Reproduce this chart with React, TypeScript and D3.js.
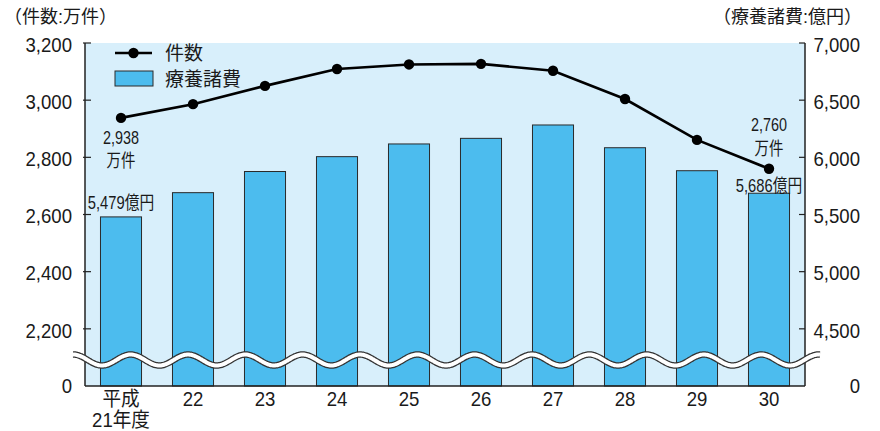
import React from "react";
import * as d3 from "d3";

const categories = ["平成\n21年度", "22", "23", "24", "25", "26", "27", "28", "29", "30"];
const caseCounts = [2938, 2986, 3050, 3109, 3125, 3127, 3103, 3004, 2861, 2760];
const medicalCosts = [5479, 5691, 5876, 6006, 6117, 6166, 6283, 6084, 5883, 5686];
const leftTicks = [2200, 2400, 2600, 2800, 3000, 3200];
const rightTicks = [4500, 5000, 5500, 6000, 6500, 7000];
const leftUnit = "（件数:万件）";
const rightUnit = "（療養諸費:億円）";
const seriesNames = ["件数", "療養諸費"];

const W = 880, H = 431;
const L = 85, R = 805, T = 43, B = 386;
const FONT = "'Liberation Sans', 'Noto Sans CJK JP', sans-serif";
const BG = "#d8effb";
const BAR = "#4cbcee";

function Txt({ x, y, anchor = "start", size = 18, sx = 1, children, weight = 400 }: any) {
  return (
    <text
      transform={`translate(${x},${y}) scale(${sx},1)`}
      textAnchor={anchor}
      dominantBaseline="central"
      fontFamily={FONT}
      fontSize={size}
      fontWeight={weight}
      fill="#1a1a1a"
    >
      {children}
    </text>
  );
}

export default function App() {
  const x = d3.scaleBand<string>().domain(categories).range([L, R]).paddingInner(0.43).paddingOuter(0.215);
  const yL = d3.scaleLinear().domain([2000, 3200]).range([B, T]);
  const yR = d3.scaleLinear().domain([4000, 7000]).range([B, T]);
  const cx = (c: string) => (x(c) as number) + x.bandwidth() / 2;
  const fmt = d3.format(",");

  const line = d3.line<number>().x((_, i) => cx(categories[i])).y((d) => yL(d));

  // break wave (decoration)
  const waveT = 57.33, waveX0 = 102, waveC = 360, waveA = 5.5;
  const wavePts: [number, number][] = d3.range(73, 821, 1).map((px) => [px, waveC + waveA * Math.cos((2 * Math.PI * (px - waveX0)) / waveT)]);
  const wavePath = d3.line().curve(d3.curveBasis)(wavePts) as string;

  const first = categories[0], last = categories[categories.length - 1];

  return (
    <svg width={W} height={H} style={{ position: "absolute", left: 0, top: 0, background: "#fff" }}>
      <rect x={L} y={T} width={R - L} height={B - T} fill={BG} />
      {categories.map((c, i) => (
        <rect key={c} x={x(c)} y={yR(medicalCosts[i])} width={x.bandwidth()} height={B - yR(medicalCosts[i])}
          fill={BAR} stroke="#2a2a2a" strokeWidth={1} />
      ))}
      {/* axes */}
      <line x1={L} y1={T} x2={L} y2={B} stroke="#222" strokeWidth={1.5} />
      <line x1={R} y1={T} x2={R} y2={B} stroke="#222" strokeWidth={1.5} />
      <line x1={L} y1={B} x2={R} y2={B} stroke="#222" strokeWidth={1.5} />
      {leftTicks.map((t) => (
        <g key={t}>
          <line x1={L - 2} x2={L + 6} y1={yL(t)} y2={yL(t)} stroke="#222" strokeWidth={1.2} />
          <Txt x={72} y={yL(t) + 2} anchor="end" size={20} sx={0.93}>{fmt(t)}</Txt>
        </g>
      ))}
      <Txt x={72} y={B} anchor="end" size={20} sx={0.93}>0</Txt>
      {rightTicks.map((t) => (
        <g key={t}>
          <line x1={R - 6} x2={R} y1={yR(t)} y2={yR(t)} stroke="#222" strokeWidth={1.2} />
          <Txt x={860} y={yR(t) + 2} anchor="end" size={20} sx={0.93}>{fmt(t)}</Txt>
        </g>
      ))}
      <Txt x={860} y={B} anchor="end" size={20} sx={0.93}>0</Txt>
      {/* break wave */}
      <path d={wavePath} fill="none" stroke="#333" strokeWidth={6.5} />
      <path d={wavePath} fill="none" stroke="#fff" strokeWidth={4} />
      {/* line series */}
      <path d={line(caseCounts) as string} fill="none" stroke="#000" strokeWidth={2.6} />
      {caseCounts.map((v, i) => (
        <circle key={i} cx={cx(categories[i])} cy={yL(v)} r={5.2} fill="#000" />
      ))}
      {/* annotations */}
      <Txt x={cx(first)} y={yL(caseCounts[0]) + 19} anchor="middle" size={18} sx={0.8}>{fmt(caseCounts[0])}</Txt>
      <Txt x={cx(first)} y={yL(caseCounts[0]) + 42} anchor="middle" size={18} sx={0.8}>万件</Txt>
      <Txt x={cx(first)} y={yR(medicalCosts[0]) - 14} anchor="middle" size={18} sx={0.82}>{fmt(medicalCosts[0])}億円</Txt>
      <Txt x={cx(last)} y={yL(caseCounts[9]) - 44} anchor="middle" size={18} sx={0.8}>{fmt(caseCounts[9])}</Txt>
      <Txt x={cx(last)} y={yL(caseCounts[9]) - 20} anchor="middle" size={18} sx={0.8}>万件</Txt>
      <Txt x={cx(last)} y={yR(medicalCosts[9]) - 8} anchor="middle" size={18} sx={0.82}>{fmt(medicalCosts[9])}億円</Txt>
      {/* legend */}
      <line x1={115} x2={152} y1={53} y2={53} stroke="#000" strokeWidth={2.6} />
      <circle cx={133.5} cy={53} r={5.2} fill="#000" />
      <Txt x={165} y={53} size={19}>{seriesNames[0]}</Txt>
      <rect x={115} y={71} width={38} height={15} fill={BAR} stroke="#2a2a2a" strokeWidth={1} />
      <Txt x={165} y={79} size={19}>{seriesNames[1]}</Txt>
      {/* units */}
      <Txt x={4} y={17} size={18}>{leftUnit}</Txt>
      <Txt x={862} y={17} anchor="end" size={18}>{rightUnit}</Txt>
      {/* x labels */}
      {categories.map((c) => {
        const parts = c.split("\n");
        return parts.map((p, j) => (
          <Txt key={c + j} x={cx(c)} y={399 + j * 21} anchor="middle" size={20} sx={0.93}>{p}</Txt>
        ));
      })}
    </svg>
  );
}
